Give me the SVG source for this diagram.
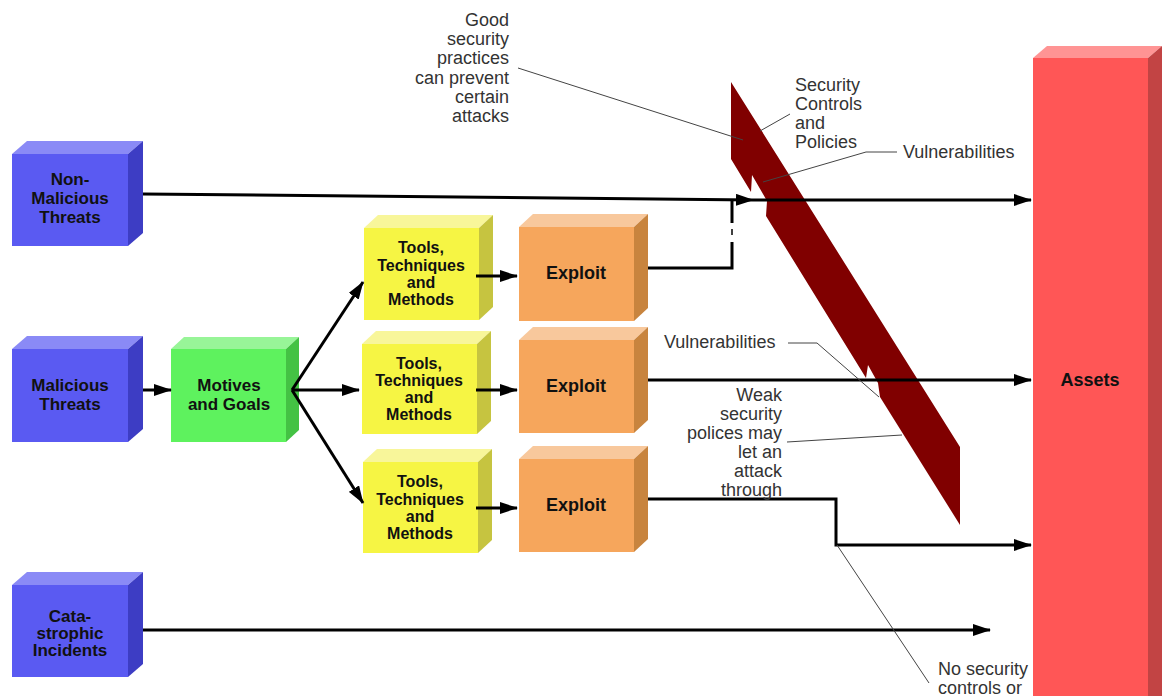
<svg xmlns="http://www.w3.org/2000/svg" width="1163" height="696" viewBox="0 0 1163 696">
  <style>
    .lbl { font-family: "Liberation Sans", Arial, sans-serif; font-weight: bold; fill: #111; text-anchor: middle; }
    .note { font-family: "Liberation Sans", Arial, sans-serif; font-size: 18px; fill: #333; }
    .conn { fill: none; stroke: #000; stroke-width: 3; }
    .arrow { marker-end: url(#head); }
    .leader { fill: none; stroke: #444; stroke-width: 1; }
    .blue .f { fill: #5a5af2; } .blue .t { fill: #8a8af6; } .blue .s { fill: #3d3dc4; }
    .green .f { fill: #5ef25e; } .green .t { fill: #98f598; } .green .s { fill: #44c244; }
    .yellow .f { fill: #f6f544; } .yellow .t { fill: #f8f69a; } .yellow .s { fill: #c6c440; }
    .orange .f { fill: #f6a65c; } .orange .t { fill: #f8c89c; } .orange .s { fill: #c8843e; }
    .red .f { fill: #ff5656; } .red .t { fill: #ff9494; } .red .s { fill: #c24444; }
  </style>
  <defs>
    <marker id="head" markerUnits="userSpaceOnUse" markerWidth="18" markerHeight="12" refX="17" refY="6" orient="auto">
      <path d="M0,0 L18,6 L0,12 Z" fill="#000"/>
    </marker>
  </defs>

  <rect width="1163" height="696" fill="#fff"/>

  <!-- note partly hidden behind the Assets block -->
  <g id="note-no-controls" class="note" font-size="17">
    <text x="938" y="675">No security</text>
    <text x="938" y="694">controls or</text>
  </g>

  <!-- Non-Malicious Threats -->
  <g id="non-malicious" class="blue">
    <polygon class="t" points="12,154 27,141 143,141 128,154"/>
    <polygon class="s" points="128,154 143,141 143,233 128,246"/>
    <rect class="f" x="12" y="154" width="116" height="92"/>
    <text class="lbl" font-size="17" x="70" y="185">Non-</text>
    <text class="lbl" font-size="17" x="70" y="204">Malicious</text>
    <text class="lbl" font-size="17" x="70" y="223">Threats</text>
  </g>

  <!-- Malicious Threats -->
  <g id="malicious" class="blue">
    <polygon class="t" points="12,349 27,336 143,336 128,349"/>
    <polygon class="s" points="128,349 143,336 143,429 128,442"/>
    <rect class="f" x="12" y="349" width="116" height="93"/>
    <text class="lbl" font-size="17" x="70" y="391">Malicious</text>
    <text class="lbl" font-size="17" x="70" y="410">Threats</text>
  </g>

  <!-- Catastrophic Incidents -->
  <g id="catastrophic" class="blue">
    <polygon class="t" points="12,585 27,572 143,572 128,585"/>
    <polygon class="s" points="128,585 143,572 143,664 128,677"/>
    <rect class="f" x="12" y="585" width="116" height="92"/>
    <text class="lbl" font-size="17" x="70" y="622">Cata-</text>
    <text class="lbl" font-size="17" x="70" y="639">strophic</text>
    <text class="lbl" font-size="17" x="70" y="656">Incidents</text>
  </g>

  <!-- Motives and Goals -->
  <g id="motives" class="green">
    <polygon class="t" points="171,349 184,337 299,337 286,349"/>
    <polygon class="s" points="286,349 299,337 299,430 286,442"/>
    <rect class="f" x="171" y="349" width="115" height="93"/>
    <text class="lbl" font-size="17" x="229" y="391">Motives</text>
    <text class="lbl" font-size="17" x="229" y="410">and Goals</text>
  </g>

  <!-- Tools, Techniques and Methods -->
  <g id="tools-1" class="yellow">
    <polygon class="t" points="364,228 378,215 493,215 479,228"/>
    <polygon class="s" points="479,228 493,215 493,307 479,320"/>
    <rect class="f" x="364" y="228" width="115" height="92"/>
    <text class="lbl" font-size="16" x="421" y="253">Tools,</text>
    <text class="lbl" font-size="16" x="421" y="271">Techniques</text>
    <text class="lbl" font-size="16" x="421" y="288">and</text>
    <text class="lbl" font-size="16" x="421" y="305">Methods</text>
  </g>
  <g id="tools-2" class="yellow">
    <polygon class="t" points="362,344 376,331 491,331 477,344"/>
    <polygon class="s" points="477,344 491,331 491,421 477,434"/>
    <rect class="f" x="362" y="344" width="115" height="90"/>
    <text class="lbl" font-size="16" x="419" y="369">Tools,</text>
    <text class="lbl" font-size="16" x="419" y="386">Techniques</text>
    <text class="lbl" font-size="16" x="419" y="403">and</text>
    <text class="lbl" font-size="16" x="419" y="420">Methods</text>
  </g>
  <g id="tools-3" class="yellow">
    <polygon class="t" points="363,462 377,449 492,449 478,462"/>
    <polygon class="s" points="478,462 492,449 492,540 478,553"/>
    <rect class="f" x="363" y="462" width="115" height="91"/>
    <text class="lbl" font-size="16" x="420" y="487">Tools,</text>
    <text class="lbl" font-size="16" x="420" y="505">Techniques</text>
    <text class="lbl" font-size="16" x="420" y="522">and</text>
    <text class="lbl" font-size="16" x="420" y="539">Methods</text>
  </g>

  <!-- Exploit blocks -->
  <g id="exploit-1" class="orange">
    <polygon class="t" points="519,227 533,214 648,214 634,227"/>
    <polygon class="s" points="634,227 648,214 648,308 634,321"/>
    <rect class="f" x="519" y="227" width="115" height="94"/>
    <text class="lbl" font-size="18" x="576" y="279">Exploit</text>
  </g>
  <g id="exploit-2" class="orange">
    <polygon class="t" points="519,340 533,327 648,327 634,340"/>
    <polygon class="s" points="634,340 648,327 648,420 634,433"/>
    <rect class="f" x="519" y="340" width="115" height="93"/>
    <text class="lbl" font-size="18" x="576" y="392">Exploit</text>
  </g>
  <g id="exploit-3" class="orange">
    <polygon class="t" points="519,459 533,446 648,446 634,459"/>
    <polygon class="s" points="634,459 648,446 648,539 634,552"/>
    <rect class="f" x="519" y="459" width="115" height="93"/>
    <text class="lbl" font-size="18" x="576" y="511">Exploit</text>
  </g>

  <!-- Assets -->
  <g id="assets" class="red">
    <polygon class="t" points="1033,58 1047,46 1162,46 1148,58"/>
    <polygon class="s" points="1148,58 1162,46 1162,696 1148,696"/>
    <rect class="f" x="1033" y="58" width="115" height="640"/>
    <text class="lbl" font-size="18" x="1090" y="386">Assets</text>
  </g>

  <!-- Security controls and policies barrier, with gaps (vulnerabilities) -->
  <g id="barrier">
    <polygon fill="#800000" points="731,82 960,447 960,525 880,397 878,383 868,365 866,378 766,216 767,201 752,175 751,192 731,159"/>
  </g>

  <!-- connectors -->
  <g id="connectors">
    <path class="conn arrow" d="M143,194 L753,200"/>
    <path class="conn arrow" d="M753,200 L1031,200"/>
    <path class="conn" d="M648,268 H732 V242"/>
    <path class="conn" d="M732,223 V200"/>
    <path fill="none" stroke="#000" stroke-width="1.5" d="M732,229 V235"/>
    <path class="conn arrow" d="M648,380 H1031"/>
    <path class="conn arrow" d="M648,499 H836 V545 H1031"/>
    <path class="conn arrow" d="M143,630 H990"/>
    <path class="conn arrow" d="M143,390 H171"/>
    <path class="conn arrow" d="M292,390 L363,282"/>
    <path class="conn arrow" d="M292,390 H359"/>
    <path class="conn arrow" d="M292,390 L363,503"/>
    <path class="conn arrow" d="M476,276 H517"/>
    <path class="conn arrow" d="M476,390 H517"/>
    <path class="conn arrow" d="M476,508 H517"/>
  </g>

  <!-- callouts -->
  <g id="note-good-practices" class="note" text-anchor="end">
    <text x="509" y="26">Good</text>
    <text x="509" y="45">security</text>
    <text x="509" y="64">practices</text>
    <text x="509" y="84">can prevent</text>
    <text x="509" y="103">certain</text>
    <text x="509" y="122">attacks</text>
    <path class="leader" d="M518,68 L743,140"/>
  </g>
  <g id="note-controls" class="note">
    <text x="795" y="91">Security</text>
    <text x="795" y="110">Controls</text>
    <text x="795" y="129">and</text>
    <text x="795" y="148">Policies</text>
    <path class="leader" d="M790,114 L760,131"/>
  </g>
  <g id="note-vuln-top" class="note">
    <text x="903" y="158">Vulnerabilities</text>
    <path class="leader" d="M897,152 H866 L763,182"/>
  </g>
  <g id="note-vuln-mid" class="note">
    <text x="664" y="348">Vulnerabilities</text>
    <path class="leader" d="M788,343 H817 L879,397"/>
  </g>
  <g id="note-weak" class="note" text-anchor="end">
    <text x="782" y="401">Weak</text>
    <text x="782" y="420">security</text>
    <text x="782" y="439">polices may</text>
    <text x="782" y="458">let an</text>
    <text x="782" y="477">attack</text>
    <text x="782" y="496">through</text>
    <path class="leader" d="M787,442 L902,435"/>
  </g>
  <path id="leader-no-controls" class="leader" d="M837,545 L929,683"/>
</svg>
